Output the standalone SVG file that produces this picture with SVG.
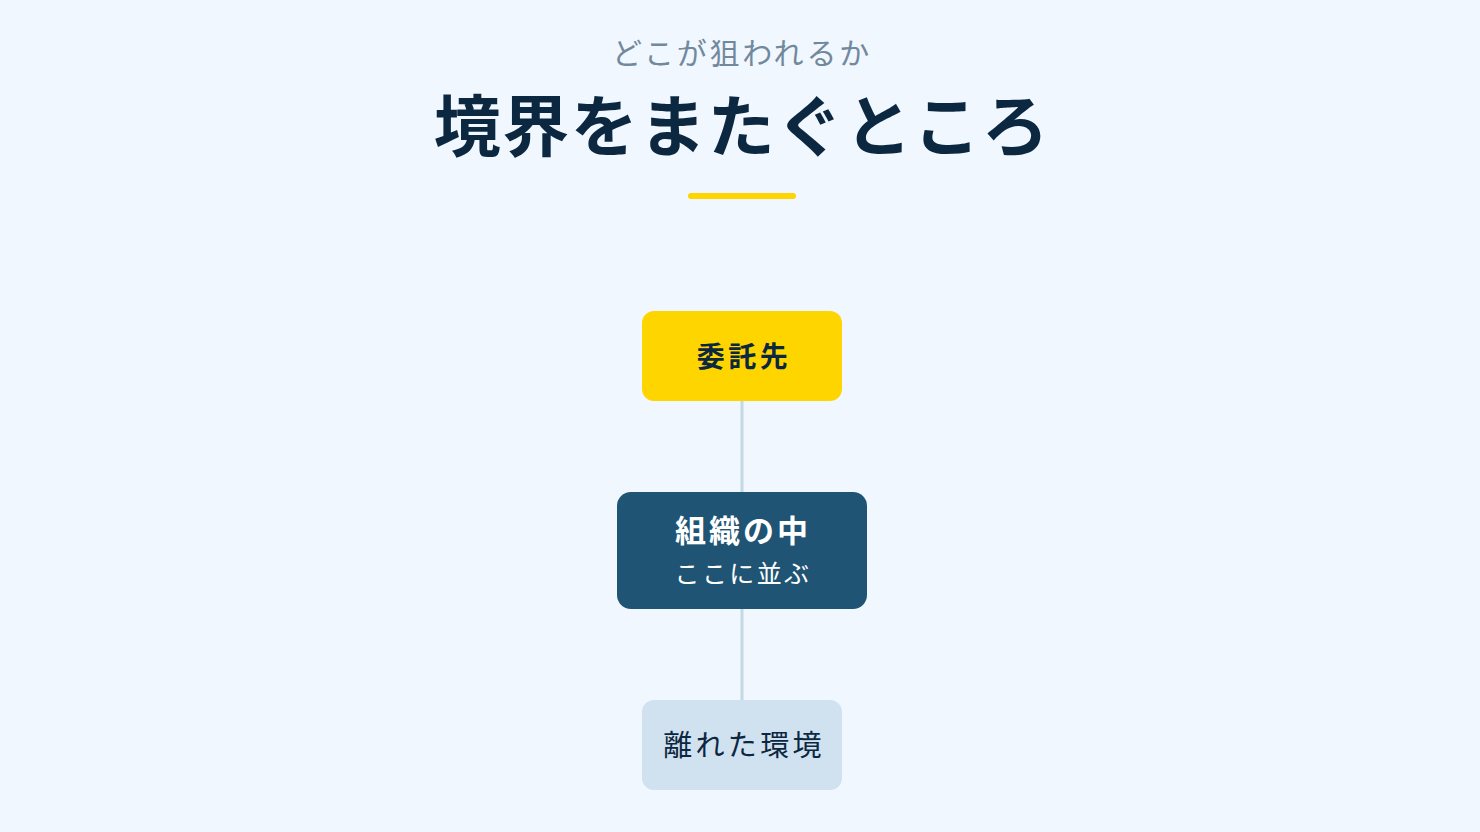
<svg xmlns="http://www.w3.org/2000/svg" width="1480" height="832" viewBox="0 0 1480 832">
<style>
text{font-family:"Noto Sans CJK JP","Noto Sans",sans-serif;text-anchor:middle}
.sub{font-size:30px;fill:#72899d;letter-spacing:2.8px}
.title{font-size:67px;font-weight:700;fill:#0c2740;letter-spacing:1.5px}
.conn{stroke:#c6d8e6;stroke-width:3;fill:none}
.n1{fill:#ffd500}
.n2{fill:#1f5475}
.n3{fill:#d0e1f0}
.lbl-dark{font-size:28px;font-weight:700;fill:#0c2740;letter-spacing:3.5px}
.lbl-white{font-size:31px;font-weight:700;fill:#ffffff;letter-spacing:3px}
.lbl-white-sm{font-size:25px;fill:#ffffff;letter-spacing:2.4px}
.lbl-reg{font-size:29px;fill:#0c2740;letter-spacing:3.3px}
</style>
<rect width="1480" height="832" fill="#f0f7fe"/>
<text class="sub" x="742" y="64">どこが狙われるか</text>
<text class="title" x="742" y="151">境界をまたぐところ</text>
<rect x="688" y="193" width="108" height="6" rx="3" fill="#ffd500"/>
<g id="connectors">
<line class="conn" x1="742" y1="401" x2="742" y2="492"/>
<line class="conn" x1="742" y1="609" x2="742" y2="700"/>
</g>
<g id="node-itakusaki">
<rect class="n1" x="642" y="311" width="200" height="90" rx="12"/>
<text class="lbl-dark" x="744" y="367">委託先</text>
</g>
<g id="node-soshiki">
<rect class="n2" x="617" y="492" width="250" height="117" rx="14"/>
<text class="lbl-white" x="743" y="542">組織の中</text>
<text class="lbl-white-sm" x="743" y="583">ここに並ぶ</text>
</g>
<g id="node-hanareta">
<rect class="n3" x="642" y="700" width="200" height="90" rx="12"/>
<text class="lbl-reg" x="744" y="756">離れた環境</text>
</g>
</svg>
